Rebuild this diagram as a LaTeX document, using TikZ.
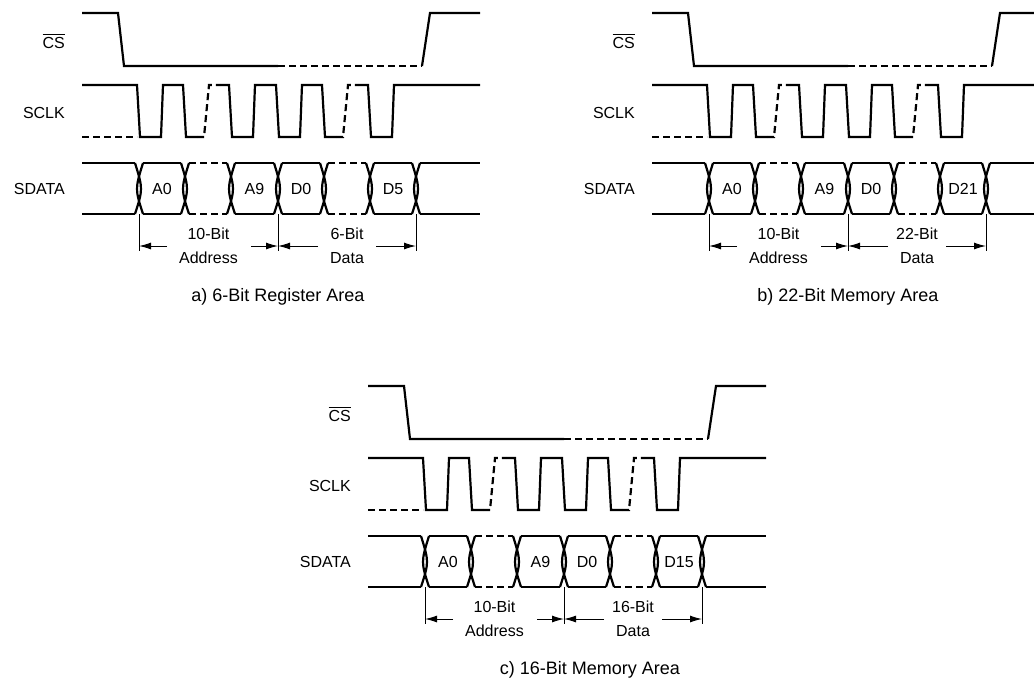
\documentclass[tikz,border=0pt]{standalone}
\usepackage{fontspec}
\setmainfont{Liberation Sans}
\usetikzlibrary{arrows.meta}
\tikzset{
	wave/.style={
			line width=2.2pt,
			line join=miter
		},
	wavedash/.style={
			wave,
			dash pattern=on 7pt off 4pt
		},
	dimline/.style={
			line width=1pt
		},
	dimarrow/.style={
			line width=1pt,
			-{Latex[length=12pt,width=7pt]}
		},
	siglabel/.style={
			anchor=east,
			inner sep=0pt,
			font=\fontsize{16}{19}\selectfont
		},
	celltext/.style={
			inner sep=0pt,
			font=\fontsize{16}{19}\selectfont
		},
	dimtext/.style={
			align=center,
			inner sep=0pt,
			font=\fontsize{16}{24}\selectfont
		},
	captiontext/.style={
			inner sep=0pt,
			font=\fontsize{18}{21}\selectfont
		}
}
% one panel: #1 last data bit, #2 data width, #3 caption, #4 caption x
\newcommand{\spipanel}[4]{%
\node[siglabel] (cs) at (65,41) {\vbox{\hrule height 1.5pt\kern 2pt\hbox{CS}}};
\node[siglabel] (sclk) at (65,113) {SCLK};
\node[siglabel] (sdata) at (65,189) {SDATA};

\draw[wave] (82,13) -- (118,13) -- (124,66) -- (278,66);
\draw[wavedash] (278,66) -- (422,66);
\draw[wave] (422,66) -- (430,13) -- (480,13);

\draw[wavedash] (82,137) -- (137,137);
\draw[wave] (82,85) -- (137,85) -- (140,137) -- (161,137) -- (163,85) -- (183,85) -- (186,137) -- (197,137);
\draw[wavedash] (197,137) -- (204,137) -- (209,85) -- (220,85);
\draw[wave] (220,85) -- (229,85) -- (232,137) -- (253,137) -- (255,85) -- (276,85) -- (279,137) -- (300,137) -- (302,85) -- (322,85) -- (325,137) -- (336,137);
\draw[wavedash] (336,137) -- (343,137) -- (348,85) -- (358,85);
\draw[wave] (358,85) -- (368,85) -- (371,137) -- (392,137) -- (394,85) -- (480,85);

\draw[wave] (82,163) -- (135,163) (82,214) -- (135,214);
\draw[wave] (143,163) -- (181,163) (143,214) -- (181,214);
\draw[wavedash] (189,163) -- (227,163) (189,214) -- (227,214);
\draw[wave] (235,163) -- (274,163) (235,214) -- (274,214);
\draw[wave] (282,163) -- (320,163) (282,214) -- (320,214);
\draw[wavedash] (328,163) -- (366,163) (328,214) -- (366,214);
\draw[wave] (374,163) -- (412,163) (374,214) -- (412,214);
\draw[wave] (420,163) -- (480,163) (420,214) -- (480,214);
\foreach \t in {139,185,231,278,324,370,416} {
  \draw[wave] (\t-4,163) .. controls (\t+4,189) .. (\t-4,214);
  \draw[wave] (\t+4,163) .. controls (\t-4,189) .. (\t+4,214);
}

\node[celltext] (a0) at (162,189) {A0};
\node[celltext] (a9) at (254.5,189) {A9};
\node[celltext] (d0) at (301,189) {D0};
\node[celltext] (dn) at (393,189) {#1};

\coordinate (m1) at (139,246);
\coordinate (m4) at (278,246);
\coordinate (m7) at (416,246);
\draw[dimline] (139,214) -- (139,251);
\draw[dimline] (278,214) -- (278,251);
\draw[dimline] (416,214) -- (416,251);
\node[dimtext] (addr) at (208.5,246) {10-Bit\\Address};
\node[dimtext] (data) at (347,246) {#2-Bit\\Data};
\draw[dimarrow] ([xshift=28pt]m1) -- (m1);
\draw[dimarrow] ([xshift=-27pt]m4) -- (m4);
\draw[dimarrow] ([xshift=40pt]m4) -- (m4);
\draw[dimarrow] ([xshift=-40pt]m7) -- (m7);

\node[captiontext] (caption) at (#4,297) {#3};
}

\begin{document}
\begin{tikzpicture}[x=1pt, y=-1pt]
\clip (0,0) rectangle (1034,683);

\begin{scope}[name prefix=a-]
\spipanel{D5}{6}{a) 6-Bit Register Area}{278}
\end{scope}

\begin{scope}[shift={(570,0)}, name prefix=b-]
\spipanel{D21}{22}{b) 22-Bit Memory Area}{278}
\end{scope}

\begin{scope}[shift={(286,373)}, name prefix=c-]
\spipanel{D15}{16}{c) 16-Bit Memory Area}{304}
\end{scope}
\end{tikzpicture}
\end{document}
